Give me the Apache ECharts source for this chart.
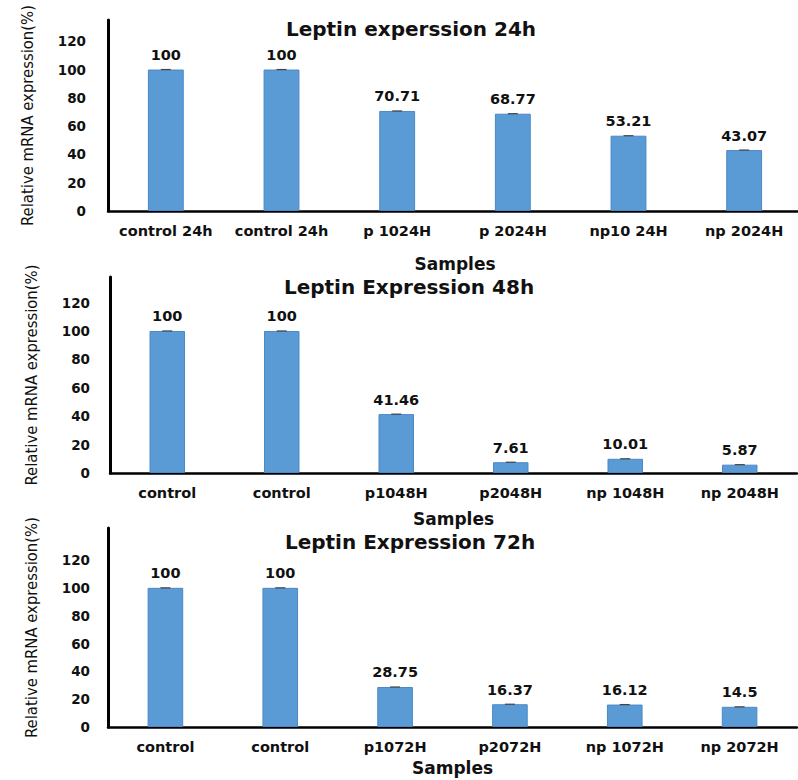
<!DOCTYPE html>
<html>
<head>
<meta charset="utf-8">
<script src="https://cdn.jsdelivr.net/npm/echarts@6/dist/echarts.min.js"></script>
<style>
html,body{margin:0;padding:0;background:#fff;}
#chart{width:798px;height:780px;}
</style>
</head>
<body>
<div id="chart"></div>
<script>
// ---- data ----
const titles = ['Leptin experssion 24h', 'Leptin Expression 48h', 'Leptin Expression 72h'];
const categories24 = ['control 24h', 'control 24h', 'p 1024H', 'p 2024H', 'np10 24H', 'np 2024H'];
const values24 = [100, 100, 70.71, 68.77, 53.21, 43.07];
const categories48 = ['control', 'control', 'p1048H', 'p2048H', 'np 1048H', 'np 2048H'];
const values48 = [100, 100, 41.46, 7.61, 10.01, 5.87];
const categories72 = ['control', 'control', 'p1072H', 'p2072H', 'np 1072H', 'np 2072H'];
const values72 = [100, 100, 28.75, 16.37, 16.12, 14.5];
const yTickMaxLabel = 120;
const yAxisName = 'Relative mRNA expression(%)';
const xAxisName = 'Samples';

// ---- layout ----
const panels = [
  { cats: categories24, vals: values24, top: 20, bottom: 211, left: 108, right: -4, max: 135, yMargin: 22, yGap: 72, xGap: 44, titleX: 406, titleY: 14 },
  { cats: categories48, vals: values48, top: 277, bottom: 473, left: 110, right: 1, max: 138, yMargin: 20, yGap: 70, xGap: 37, titleX: 404, titleY: 272 },
  { cats: categories72, vals: values72, top: 528, bottom: 727, left: 108, right: 1, max: 143, yMargin: 18, yGap: 68, xGap: 32, titleX: 405, titleY: 527 }
];

const boldFont = 'DejaVu Sans';
const grid = [], xAxis = [], yAxis = [], series = [], title = [];

panels.forEach((p, i) => {
  title.push({
    text: titles[i], left: p.titleX, top: p.titleY, textAlign: 'center',
    textStyle: { fontFamily: boldFont, fontWeight: 'bold', fontSize: 20, color: '#111' }
  });
  grid.push({ left: p.left, right: p.right, top: p.top, height: p.bottom - p.top, containLabel: false, outerBoundsMode: 'none' });
  xAxis.push({
    type: 'category', gridIndex: i, data: p.cats,
    name: xAxisName, nameLocation: 'middle', nameGap: p.xGap,
    nameTextStyle: { fontFamily: boldFont, fontWeight: 'bold', fontSize: 17, color: '#111' },
    axisLine: { lineStyle: { color: '#000', width: 2.5 } },
    axisTick: { show: false },
    axisLabel: { interval: 0, margin: 12, fontFamily: boldFont, fontWeight: 'bold', fontSize: 14.5, color: '#111' },
    splitLine: { show: false }
  });
  yAxis.push({
    type: 'value', gridIndex: i, min: 0, max: p.max, interval: 20,
    name: yAxisName, nameLocation: 'middle', nameGap: p.yGap, nameRotate: 90,
    nameTextStyle: { fontFamily: 'DejaVu Sans Condensed, Liberation Sans', fontSize: 16.5, color: '#111' },
    axisLine: { show: true, lineStyle: { color: '#000', width: 3 } },
    axisTick: { show: false },
    splitLine: { show: false },
    axisLabel: {
      showMaxLabel: false, margin: p.yMargin, fontFamily: boldFont, fontWeight: 'bold', fontSize: 13.5, color: '#111',
      formatter: v => (v > yTickMaxLabel ? '' : String(v))
    }
  });
  series.push({
    type: 'bar', xAxisIndex: i, yAxisIndex: i, data: p.vals, barWidth: '31%',
    itemStyle: { color: '#5b9bd5', borderColor: '#4a88c7', borderWidth: 1 },
    label: { show: true, position: 'top', distance: 7, fontFamily: boldFont, fontWeight: 'bold', fontSize: 14.5, color: '#111' },
    z: 2
  });
  series.push({
    type: 'custom', xAxisIndex: i, yAxisIndex: i,
    data: p.vals.map((v, k) => [k, v]),
    encode: { x: 0, y: 1 },
    renderItem: function (params, api) {
      const pt = api.coord([api.value(0), api.value(1)]);
      return {
        type: 'line',
        shape: { x1: pt[0] - 5, y1: pt[1], x2: pt[0] + 5, y2: pt[1] },
        style: { stroke: '#444', lineWidth: 1.2 }
      };
    },
    z: 3, silent: true
  });
});

const chart = echarts.init(document.getElementById('chart'), null, { renderer: 'svg' });
chart.setOption({ backgroundColor: '#fff', animation: false, title, grid, xAxis, yAxis, series });
</script>
</body>
</html>
